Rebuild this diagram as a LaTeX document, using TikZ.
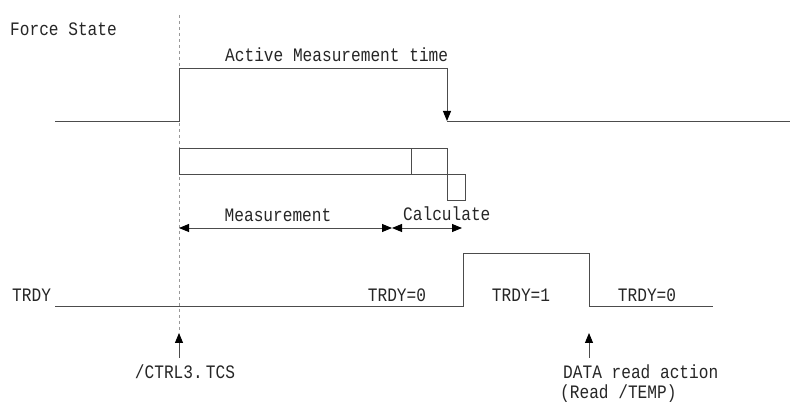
\documentclass[tikz,border=0pt]{standalone}
\usepackage{fontspec}
\newfontfamily\diagfont[FakeStretch=0.85]{Liberation Mono}
\usetikzlibrary{arrows.meta}
\begin{document}
\begin{tikzpicture}[x=1pt,y=-1pt,
  lbl/.style={font=\diagfont\fontsize{19}{21}\selectfont, text=black!85, inner sep=0pt},
  sig/.style={draw=black!70, line width=0.9pt},
  tip/.style={-{Triangle[length=10pt,width=8pt,color=black]}},
  dbl/.style={{Triangle[length=10pt,width=8pt,color=black]}-{Triangle[length=10pt,width=8pt,color=black]}},
  guide/.style={draw=black!40, line width=1pt, dash pattern=on 3pt off 3pt}]
\useasboundingbox[fill=white] (0,0) rectangle (790,403);

% labels
\node[lbl, anchor=west] (force) at (10,29) {Force State};
\node[lbl, anchor=west] (active) at (225,55) {Active Measurement time};
\node[lbl] (meas) at (278,215) {Measurement};
\node[lbl, anchor=west] (calc) at (403,214) {Calculate};
\node[lbl, anchor=west] (trdy) at (12,295) {TRDY};
\node[lbl] (t0a) at (397,295) {TRDY=0};
\node[lbl] (t1) at (521,295) {TRDY=1};
\node[lbl] (t0b) at (647,295) {TRDY=0};
\node[lbl] (ctrl) at (185,372) {/CTRL3.\,TCS};
\node[lbl, anchor=west] (data) at (563,372) {DATA read action};
\node[lbl, anchor=west] (read) at (560,394) {(Read /TEMP)};

% dotted guide
\coordinate (g0) at (179,15);
\coordinate (g1) at (179,333);
\draw[guide] (g0) -- (g1);

% force state waveform
\coordinate (fs0) at (55,121);
\coordinate (fs1) at (179,121);
\coordinate (fs2) at (179,68);
\coordinate (fs3) at (447,68);
\coordinate (fs4) at (447,121);
\coordinate (fs5) at (790,121);
\draw[sig] (fs0) -- (fs1) -- (fs2) -- (fs3);
\draw[sig,tip] (fs3) -- (fs4);
\draw[sig] (fs4) -- (fs5);

% measurement boxes
\draw[sig] (179,148) rectangle (411,174);
\draw[sig] (411,148) rectangle (447,174);
\draw[sig] (447,174) rectangle (465,200);

% span arrows
\coordinate (m0) at (179,228);
\coordinate (m1) at (392,228);
\coordinate (m2) at (462,228);
\draw[sig,dbl] (m0) -- (m1);
\draw[sig,dbl] (m1) -- (m2);

% TRDY waveform
\coordinate (t0) at (55,306);
\coordinate (tu0) at (463,306);
\coordinate (tu1) at (463,253);
\coordinate (td0) at (589,253);
\coordinate (td1) at (589,306);
\coordinate (tend) at (713,306);
\draw[sig] (t0) -- (tu0) -- (tu1) -- (td0) -- (td1) -- (tend);

% event arrows
\coordinate (c0) at (179,358);
\draw[sig,tip] (c0) -- (g1);
\coordinate (d0) at (589,358);
\coordinate (d1) at (589,333);
\draw[sig,tip] (d0) -- (d1);
\end{tikzpicture}
\end{document}
